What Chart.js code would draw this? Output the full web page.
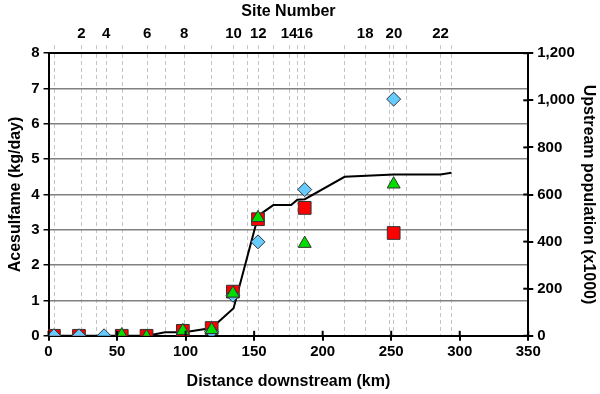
<!DOCTYPE html>
<html>
<head>
<meta charset="utf-8">
<script src="https://cdn.jsdelivr.net/npm/chart.js@4"></script>
<style>
  body { margin: 0; background: #fff; }
  #wrap { width: 600px; height: 394px; }
</style>
</head>
<body>
<div id="wrap"><canvas id="chart" width="600" height="394"></canvas></div>
<script>
// Site positions along the river (km), site number = index + 1
const siteKm = [4, 24, 35, 42, 54, 72, 85.5, 99, 119, 135, 145.5, 153, 164, 175.5, 181.5, 187, 216, 231, 249, 252, 261.5, 286, 294];

// Diamonds (blue)
const diamondKm = [3.9, 22.2, 40.5, 119, 134.5, 152.8, 186.9, 251.8];
const diamondVal = [0, 0, 0, 0.12, 1.15, 2.66, 4.14, 6.7];

// Squares (red)
const squareKm = [3.9, 22.2, 53.4, 71.5, 98, 119, 134.5, 152.8, 186.9, 251.8];
const squareVal = [0, 0, 0, 0, 0.14, 0.22, 1.25, 3.3, 3.62, 2.91];

// Triangles (green)
const triangleKm = [53.4, 71.5, 98, 119, 134.5, 152.8, 186.9, 251.8];
const triangleVal = [0.02, -0.03, 0.14, 0.17, 1.2, 3.34, 2.61, 4.29];

// Upstream population (x1000), right axis
const popKm = [0, 72, 85, 99, 119, 135, 153, 164, 177, 181.5, 187, 216, 252, 286, 294];
const popVal = [0, 0, 15, 15, 33, 117, 510, 555, 555, 578, 580, 675, 685, 685, 692];

const pts = (xs, ys) => xs.map((x, i) => ({ x: x, y: ys[i] }));

Chart.defaults.font.family = "'Liberation Sans', Arial, sans-serif";
Chart.defaults.font.weight = 'bold';
Chart.defaults.font.size = 15;
Chart.defaults.color = '#000';

// tick marks that cross into the plot area
const innerTicks = {
    id: 'innerTicks',
    afterDraw(chart) {
        const ctx = chart.ctx;
        const area = chart.chartArea;
        ctx.save();
        ctx.strokeStyle = '#000';
        ctx.lineWidth = 2;
        const x = chart.scales.x;
        x.ticks.forEach(t => {
            const px = x.getPixelForValue(t.value);
            ctx.beginPath();
            ctx.moveTo(px, area.bottom);
            ctx.lineTo(px, area.bottom - 5);
            ctx.stroke();
        });
        const y2 = chart.scales.y2;
        y2.ticks.forEach(t => {
            const py = y2.getPixelForValue(t.value);
            ctx.beginPath();
            ctx.moveTo(area.right, py);
            ctx.lineTo(area.right - 5, py);
            ctx.stroke();
        });
        ctx.restore();
    }
};

new Chart(document.getElementById('chart'), {
    type: 'scatter',
    data: {
        datasets: [
            {
                label: 'Population',
                type: 'line',
                data: pts(popKm, popVal),
                yAxisID: 'y2',
                borderColor: '#000',
                borderWidth: 2,
                pointRadius: 0,
                fill: false,
                tension: 0,
                order: 4
            },
            {
                label: 'Squares',
                data: pts(squareKm, squareVal),
                pointStyle: 'rect',
                pointRadius: 9,
                backgroundColor: '#ff0000',
                borderColor: '#333',
                borderWidth: 1,
                order: 3
            },
            {
                label: 'Diamonds',
                data: pts(diamondKm, diamondVal),
                pointStyle: 'rectRot',
                pointRadius: 7,
                backgroundColor: '#66ccff',
                borderColor: '#333',
                borderWidth: 1,
                order: 2
            },
            {
                label: 'Triangles',
                data: pts(triangleKm, triangleVal),
                pointStyle: 'triangle',
                pointRadius: 7.5,
                backgroundColor: '#00dd00',
                borderColor: '#333',
                borderWidth: 1,
                order: 1
            }
        ]
    },
    options: {
        responsive: false,
        animation: false,
        layout: { padding: { left: 6, right: 0, top: 2, bottom: 3 } },
        plugins: {
            legend: { display: false },
            tooltip: { enabled: false }
        },
        scales: {
            x: {
                type: 'linear',
                position: 'bottom',
                min: 0,
                max: 350,
                ticks: { stepSize: 50, padding: 2 },
                grid: { drawOnChartArea: false, color: '#000', lineWidth: 2, tickLength: 5 },
                border: { color: '#000', width: 2 },
                title: { display: true, text: 'Distance downstream (km)', font: { size: 16, weight: 'bold' }, padding: { top: 9, bottom: 0 } }
            },
            xTop: {
                type: 'linear',
                position: 'top',
                min: 0,
                max: 350,
                afterBuildTicks: scale => {
                    scale.ticks = siteKm.map(v => ({ value: v }));
                },
                ticks: {
                    autoSkip: false,
                    maxRotation: 0,
                    padding: 2,
                    callback: (v, i) => ((i + 1) % 2 === 0 ? String(i + 1) : '')
                },
                grid: {
                    color: '#c4c4c4',
                    lineWidth: 1,
                    tickBorderDash: [4, 3],
                    tickLength: 8
                },
                border: { color: '#000', width: 2, dash: [4, 3] },
                title: { display: true, text: 'Site Number', font: { size: 16, weight: 'bold' }, padding: { top: 0, bottom: 2 } }
            },
            y: {
                position: 'left',
                min: 0,
                max: 8,
                ticks: { stepSize: 1, padding: 4 },
                grid: { color: '#808080', lineWidth: 1.5, tickColor: '#000', tickLength: 5 },
                border: { color: '#000', width: 2 },
                title: { display: true, text: 'Acesulfame (kg/day)', font: { size: 16, weight: 'bold' }, padding: { top: 0, bottom: 2 } }
            },
            y2: {
                position: 'right',
                min: 0,
                max: 1200,
                ticks: {
                    stepSize: 200,
                    padding: 4,
                    callback: v => v.toLocaleString('en-US')
                },
                grid: { drawOnChartArea: false, color: '#000', lineWidth: 2, tickLength: 5 },
                border: { color: '#000', width: 2 },
                title: { display: true, text: 'Upstream population (x1000)', font: { size: 16, weight: 'bold' }, padding: { top: 2, bottom: 0 } }
            }
        }
    },
    plugins: [innerTicks]
});
</script>
</body>
</html>
